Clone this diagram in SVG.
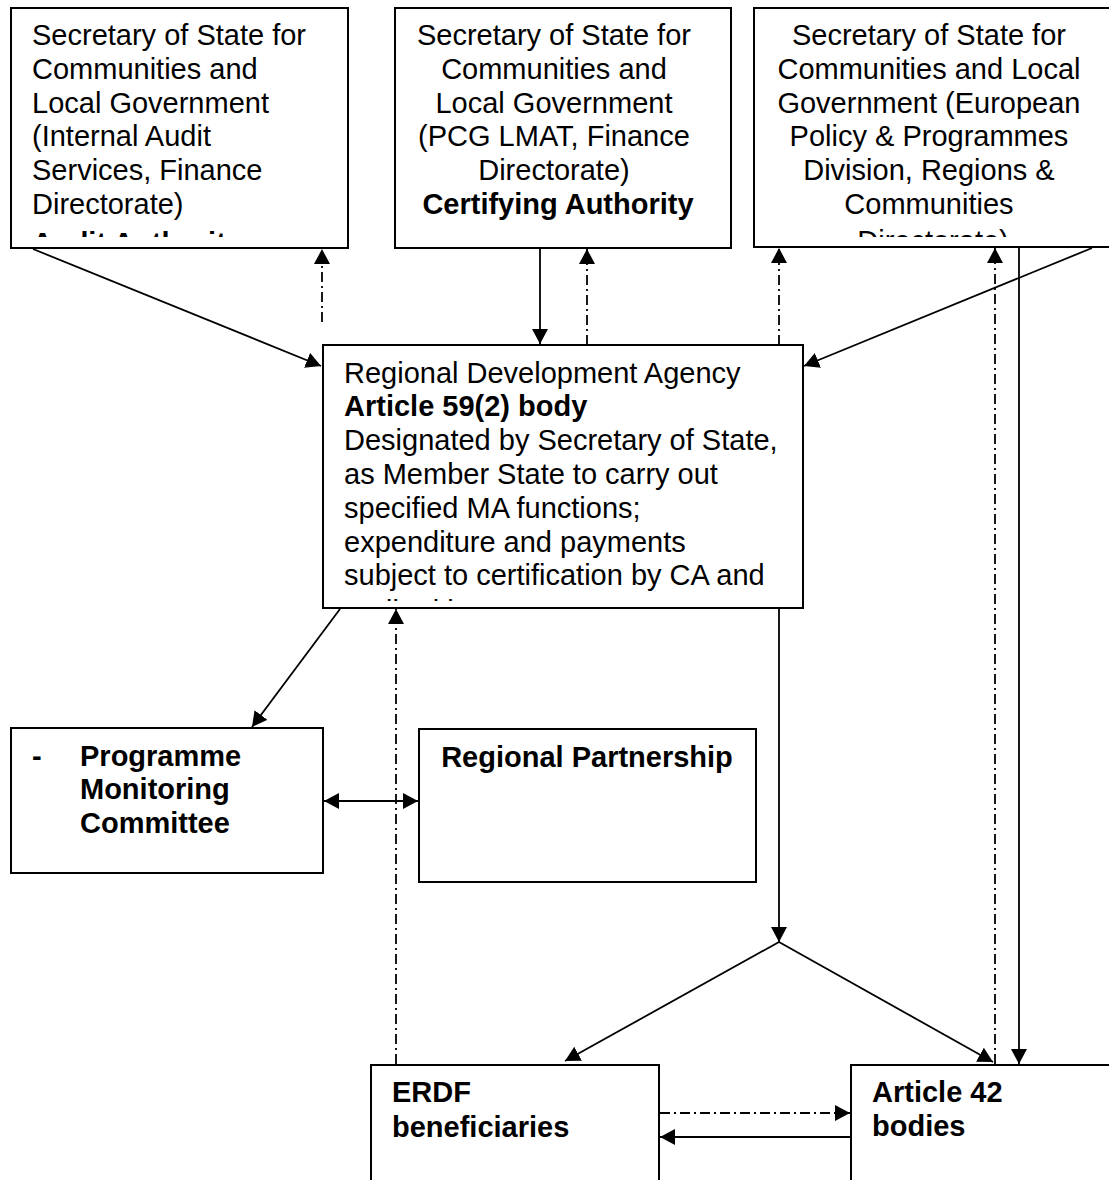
<svg xmlns="http://www.w3.org/2000/svg" width="1109" height="1180" viewBox="0 0 1109 1180">
<style>
.box{fill:#fff;stroke:#000;stroke-width:2}
.t{font-family:"Liberation Sans",Arial,sans-serif;font-size:29px;fill:#000}
.b{font-weight:bold}
.c{text-anchor:middle}
.ln{fill:none;stroke:#000;stroke-width:1.8}
.dd{stroke-dasharray:10 4 2 4}
</style>
<defs>
<marker id="ah" markerUnits="userSpaceOnUse" markerWidth="17" markerHeight="17" refX="15" refY="8" orient="auto-start-reverse" viewBox="0 0 17 17">
<path d="M0,0 L15,8 L0,16 z" fill="#000"/>
</marker>
<clipPath id="clipA"><rect x="11" y="8" width="337" height="229"/></clipPath>
<clipPath id="clipC"><rect x="754" y="8" width="356" height="229"/></clipPath>
<clipPath id="clipD"><rect x="323" y="345" width="480" height="256"/></clipPath>
</defs>

<g id="audit-authority">
<rect class="box" x="11" y="8" width="337" height="240"/>
<text class="t" clip-path="url(#clipA)">
<tspan x="32" y="45">Secretary of State for</tspan>
<tspan x="32" y="79">Communities and</tspan>
<tspan x="32" y="113">Local Government</tspan>
<tspan x="32" y="146">(Internal Audit</tspan>
<tspan x="32" y="180">Services, Finance</tspan>
<tspan x="32" y="214">Directorate)</tspan>
<tspan x="32" y="253" class="b">Audit Authority</tspan>
</text>
</g>

<g id="certifying-authority">
<rect class="box" x="395" y="8" width="336" height="240"/>
<text class="t c">
<tspan x="558" y="45">Secretary of State for</tspan>
<tspan x="558" y="79">Communities and</tspan>
<tspan x="558" y="113">Local Government</tspan>
<tspan x="558" y="146">(PCG LMAT, Finance</tspan>
<tspan x="558" y="180">Directorate)</tspan>
<tspan x="558" y="214" class="b">Certifying Authority</tspan>
</text>
</g>

<g id="european-policy">
<rect class="box" x="754" y="8" width="360" height="239"/>
<text class="t c" clip-path="url(#clipC)">
<tspan x="933" y="45">Secretary of State for</tspan>
<tspan x="933" y="79">Communities and Local</tspan>
<tspan x="933" y="113">Government (European</tspan>
<tspan x="933" y="146">Policy &amp; Programmes</tspan>
<tspan x="933" y="180">Division, Regions &amp;</tspan>
<tspan x="933" y="214">Communities</tspan>
<tspan x="933" y="251">Directorate)</tspan>
</text>
</g>

<g id="rda">
<rect class="box" x="323" y="345" width="480" height="263"/>
<text class="t" clip-path="url(#clipD)">
<tspan x="344" y="383">Regional Development Agency</tspan>
<tspan x="344" y="416" class="b">Article 59(2) body</tspan>
<tspan x="344" y="450">Designated by Secretary of State,</tspan>
<tspan x="344" y="484">as Member State to carry out</tspan>
<tspan x="344" y="518">specified MA functions;</tspan>
<tspan x="344" y="552">expenditure and payments</tspan>
<tspan x="344" y="585">subject to certification by CA and</tspan>
<tspan x="344" y="621">audited by AA</tspan>
</text>
</g>

<g id="pmc">
<rect class="box" x="11" y="728" width="312" height="145"/>
<text class="t b">
<tspan x="32" y="766">-</tspan>
<tspan x="80" y="766">Programme</tspan>
<tspan x="80" y="799">Monitoring</tspan>
<tspan x="80" y="833">Committee</tspan>
</text>
</g>

<g id="regional-partnership">
<rect class="box" x="419" y="729" width="337" height="153"/>
<text class="t b c" x="587" y="767">Regional Partnership</text>
</g>

<g id="erdf-beneficiaries">
<rect class="box" x="371" y="1065" width="288" height="130"/>
<text class="t b">
<tspan x="392" y="1102">ERDF</tspan>
<tspan x="392" y="1137">beneficiaries</tspan>
</text>
</g>

<g id="article-42">
<rect class="box" x="851" y="1065" width="270" height="130"/>
<text class="t b">
<tspan x="872" y="1102">Article 42</tspan>
<tspan x="872" y="1136">bodies</tspan>
</text>
</g>

<g id="connectors">
<line class="ln" x1="33" y1="249" x2="321" y2="366" marker-end="url(#ah)"/>
<line class="ln dd" x1="322" y1="322" x2="322" y2="249" marker-end="url(#ah)"/>
<line class="ln" x1="540" y1="248" x2="540" y2="344" marker-end="url(#ah)"/>
<line class="ln dd" x1="587" y1="345" x2="587" y2="249" marker-end="url(#ah)"/>
<line class="ln dd" x1="779" y1="345" x2="779" y2="248" marker-end="url(#ah)"/>
<line class="ln" x1="1092" y1="248" x2="804" y2="366" marker-end="url(#ah)"/>
<line class="ln dd" x1="995" y1="1064" x2="995" y2="248" marker-end="url(#ah)"/>
<line class="ln" x1="1019" y1="248" x2="1019" y2="1064" marker-end="url(#ah)"/>
<line class="ln" x1="779" y1="608" x2="779" y2="942" marker-end="url(#ah)"/>
<line class="ln" x1="779" y1="942" x2="565" y2="1061" marker-end="url(#ah)"/>
<line class="ln" x1="779" y1="942" x2="993" y2="1062" marker-end="url(#ah)"/>
<line class="ln" x1="340" y1="609" x2="252" y2="727" marker-end="url(#ah)"/>
<line class="ln dd" x1="396" y1="1064" x2="396" y2="609" marker-end="url(#ah)"/>
<line class="ln" x1="324" y1="801" x2="418" y2="801" marker-start="url(#ah)" marker-end="url(#ah)"/>
<line class="ln dd" x1="660" y1="1113" x2="850" y2="1113" marker-end="url(#ah)"/>
<line class="ln" x1="851" y1="1137" x2="660" y2="1137" marker-end="url(#ah)"/>
</g>
</svg>
